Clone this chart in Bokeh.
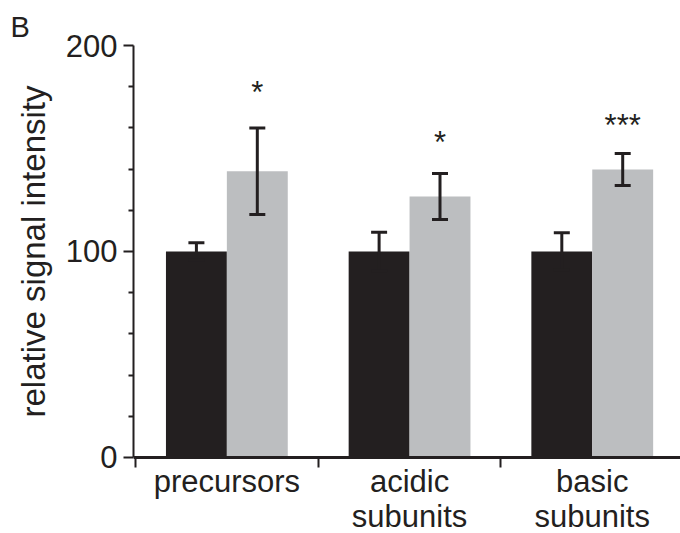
from bokeh.plotting import figure
from bokeh.models import Range1d, FixedTicker, Whisker, TeeHead, ColumnDataSource, Title
from bokeh.core.properties import value
from bokeh.embed import file_html
from bokeh.resources import INLINE

# ---- data ----
categories = ["precursors", "acidic\nsubunits", "basic\nsubunits"]
control = [100, 100, 100]
control_err = [4.2, 9.3, 9.1]
treated = [139.0, 126.7, 139.8]
treated_err = [21.0, 11.2, 7.8]
sig_text = ["*", "*", "***"]
sig_y = [177.2, 152.8, 161.4]
y_major = [0, 100, 200]
y_minor = [20, 40, 60, 80, 120, 140, 160, 180]

DARK = "#231f20"
GREY = "#bcbec0"
FONT = "Liberation Sans"
FS = "31px"

idx = list(range(len(categories)))
ctrl_x = [i + 1 / 3 for i in idx]
trt_x = [i + 2 / 3 for i in idx]

src_c = ColumnDataSource(dict(
    x=ctrl_x, top=control,
    upper=[v + e for v, e in zip(control, control_err)],
    lower=[v - e for v, e in zip(control, control_err)],
))
src_t = ColumnDataSource(dict(
    x=trt_x, top=treated,
    upper=[v + e for v, e in zip(treated, treated_err)],
    lower=[v - e for v, e in zip(treated, treated_err)],
))

# frame spans the full height below the top border; y=0 sits 76 px above the bottom
p = figure(width=680, height=533, output_backend="svg", toolbar_location=None,
           x_range=Range1d(-0.011, 2.983), y_range=Range1d(-36.9, 200),
           min_border_left=133, min_border_right=0, min_border_top=45,
           min_border_bottom=0)
p.grid.visible = False
p.outline_line_color = None
p.background_fill_color = "white"

p.title.text = "B"
p.title.text_font = FONT
p.title.text_font_size = "29px"
p.title.text_font_style = "normal"
p.title.text_color = DARK
p.title.align = "left"
p.title.offset = -123
p.title.standoff = 5

p.vbar(x="x", top="top", bottom=0, width=1 / 3, source=src_c,
       fill_color=DARK, line_color=None)
p.vbar(x="x", top="top", bottom=0, width=1 / 3, source=src_t,
       fill_color=GREY, line_color=None)

for src in (src_c, src_t):
    w = Whisker(base="x", upper="upper", lower="lower", source=src,
                level="overlay", line_color=DARK, line_width=3,
                upper_head=TeeHead(size=16, line_color=DARK, line_width=3),
                lower_head=TeeHead(size=16, line_color=DARK, line_width=3))
    p.add_layout(w)

p.text(x=trt_x, y=sig_y, text=sig_text, text_align="center",
       text_baseline="middle", text_font=value(FONT), text_font_size=FS,
       text_color=DARK)

# x axis, drawn at y = 0
xa = p.xaxis[0]
xa.fixed_location = 0
xa.ticker = FixedTicker(ticks=[i + 0.5 for i in idx],
                        minor_ticks=[float(i) for i in range(len(categories) + 1)])
xa.major_label_overrides = {i + 0.5: c for i, c in zip(idx, categories)}
xa.major_tick_line_color = None
xa.major_tick_out = 0
xa.major_tick_in = 0
xa.minor_tick_out = 10
xa.minor_tick_in = 0
xa.minor_tick_line_width = 2
xa.minor_tick_line_color = DARK
xa.axis_line_width = 3
xa.axis_line_color = DARK
xa.major_label_text_font = FONT
xa.major_label_text_font_size = FS
xa.major_label_text_color = DARK
xa.major_label_text_line_height = 1.0
xa.major_label_standoff = -3

# y axis
ya = p.yaxis[0]
ya.bounds = (0, 200)
ya.ticker = FixedTicker(ticks=y_major, minor_ticks=y_minor)
ya.major_tick_out = 10
ya.major_tick_in = 0
ya.minor_tick_out = 5
ya.minor_tick_in = 0
ya.major_tick_line_width = 2
ya.minor_tick_line_width = 2
ya.major_tick_line_color = DARK
ya.minor_tick_line_color = DARK
ya.axis_line_width = 2
ya.axis_line_color = DARK
ya.major_label_text_font = FONT
ya.major_label_text_font_size = FS
ya.major_label_text_color = DARK
ya.major_label_standoff = 6

# y axis title, placed along the 0-200 span of the axis
ytitle = Title(text="relative signal intensity", align="left", offset=116,
               text_font=FONT, text_font_size="33px", text_font_style="normal",
               text_color=DARK, standoff=21)
p.add_layout(ytitle, "left")

open("out.html", "w").write(file_html(p, INLINE))
